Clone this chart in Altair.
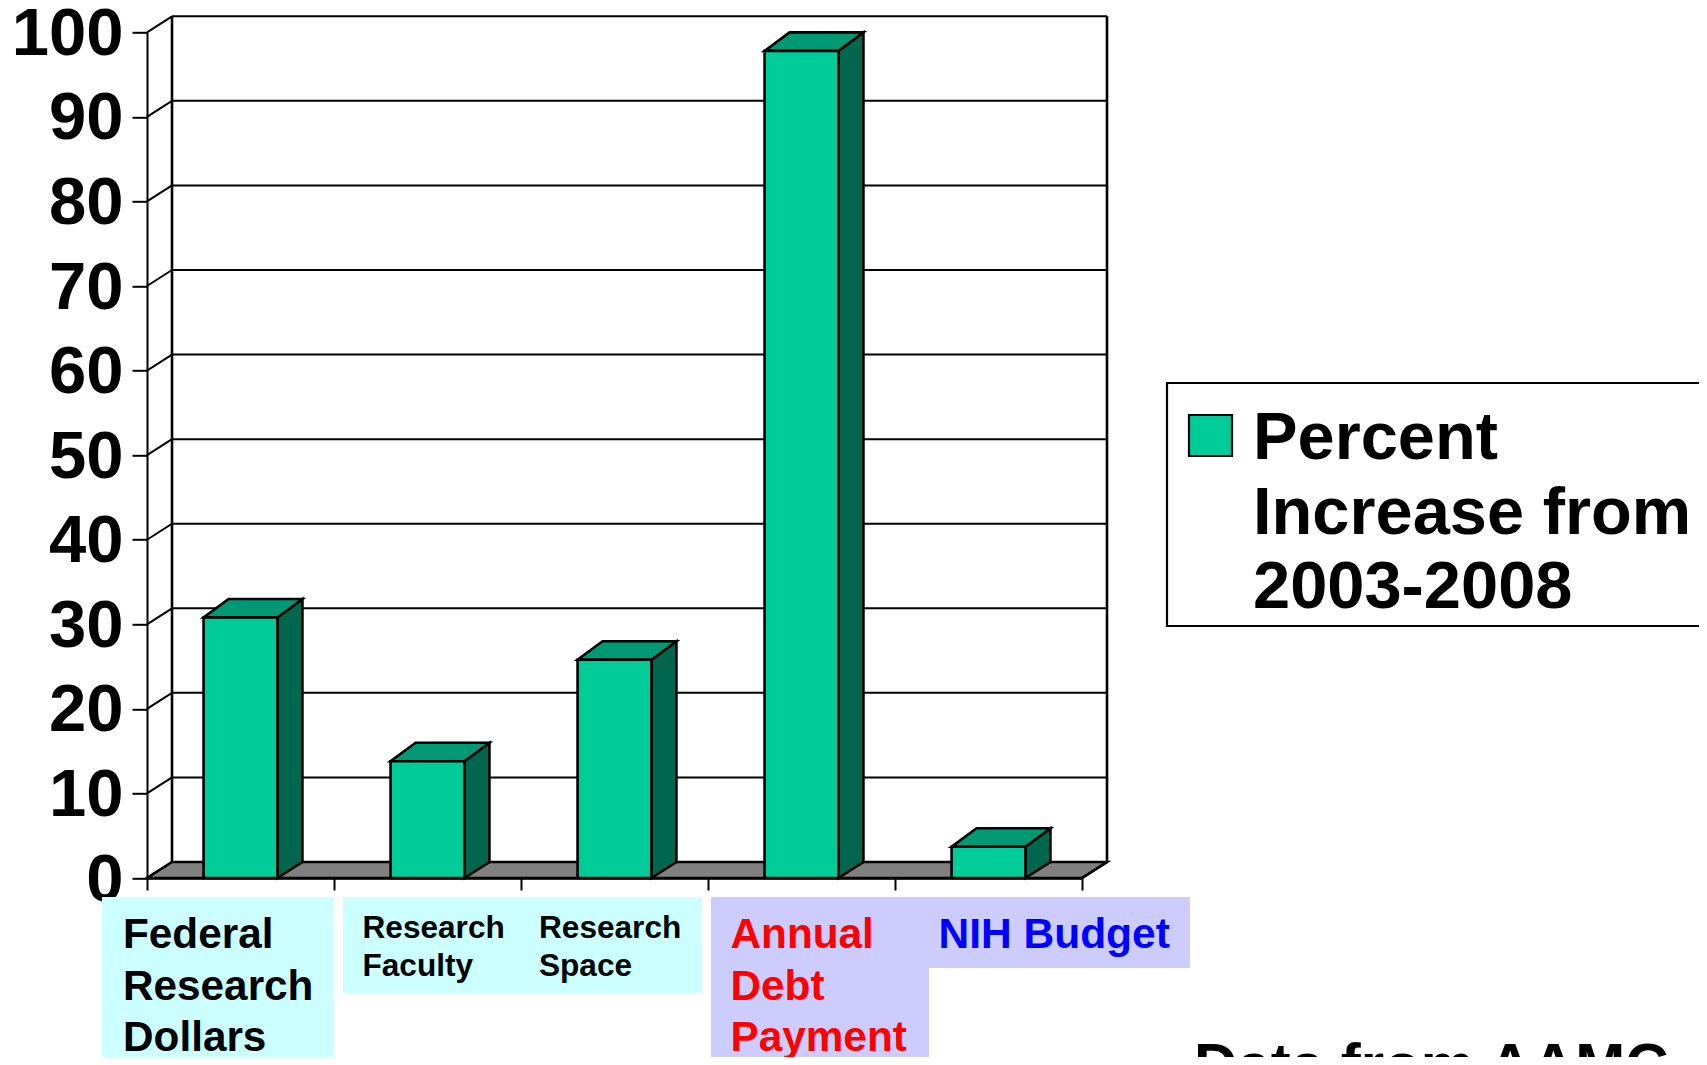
import altair as alt
import pandas as pd

# ---- values ----
CATEGORIES = ["Federal Research Dollars", "Research Faculty", "Research Space", "Annual Debt Payment", "NIH Budget"]
VALUES = [30.8, 13.8, 25.8, 97.8, 3.7]
Y_TICKS = [0, 10, 20, 30, 40, 50, 60, 70, 80, 90, 100]
X_TICKS = [0, 1, 2, 3, 4, 5]
SERIES_LINES = ["Percent", "Increase from", "2003-2008"]

# ---- layout / style ----
PLOT_L, PLOT_T, PLOT_W, PLOT_H = 147, 32.3, 935, 845.7
FONT = "Liberation Sans"
FACE, TOP, SIDE, FLOOR = "#00CC99", "#009973", "#00664D", "#808080"
DX = 25 / 187           # depth of the box in category units
DY = 16 / 8.457         # depth of the box in percent units
DY_TOP = 18.5 / 8.457   # depth of the top of a bar
BAR_W = 0.395
LINE = 2.6

xs = alt.Scale(domain=[0, 5], nice=False, zero=False)
ys = alt.Scale(domain=[0, 100], nice=False, zero=False)
x_axis = alt.Axis(
    values=X_TICKS, labels=False, grid=False, tickSize=12, tickWidth=2, tickColor="black",
    domainColor="black", domainWidth=2.5, title=None)
y_axis = alt.Axis(
    values=Y_TICKS, format="d", grid=False, tickSize=15, tickWidth=2, tickColor="black",
    domainColor="black", domainWidth=2, labelFont=FONT, labelFontWeight="bold",
    labelFontSize=67, labelColor="black", labelPadding=9, labelBaseline="middle",
    labelOffset=2, labelOverlap=False, labelFlush=False, title=None)
X = lambda f="x": alt.X(f"{f}:Q", scale=xs, axis=x_axis)
Y = lambda f="y": alt.Y(f"{f}:Q", scale=ys, axis=y_axis)
BLANK = pd.DataFrame({"a": [0]})


def px(v):
    return v - PLOT_L


def py(v):
    return v - PLOT_T


# floor
floor_df = pd.DataFrame({
    "x": [0, DX, 5, 5 + DX],
    "y": [0, 0, 0, DY],
    "y2": [0, DY, DY, DY],
})
floor = alt.Chart(floor_df).mark_area(color=FLOOR, stroke="black", strokeWidth=LINE).encode(
    x=X(), y=Y(), y2="y2:Q"
)

# walls: diagonal on the left wall, line on the back wall for each tick
tick_df = pd.DataFrame({"v": Y_TICKS})
tick_df["x0"] = 0.0
tick_df["x1"] = DX
tick_df["x2"] = 5 + DX
tick_df["yb"] = tick_df["v"] + DY
diag = alt.Chart(tick_df).mark_rule(color="black", strokeWidth=2).encode(
    x=X("x0"), x2="x1:Q", y=Y("v"), y2="yb:Q"
)
back = alt.Chart(tick_df).mark_rule(color="black", strokeWidth=2).encode(
    x=X("x1"), x2="x2:Q", y=Y("yb")
)
edges_df = pd.DataFrame({
    "x": [DX, 5 + DX, 5],
    "y": [DY, DY, 0],
    "x2": [DX, 5 + DX, 5 + DX],
    "y2": [100 + DY, 100 + DY, DY],
})
edges = alt.Chart(edges_df).mark_rule(color="black", strokeWidth=LINE).encode(
    x=X(), x2="x2:Q", y=Y(), y2="y2:Q"
)

# bars: front, side and top built from the values
front_df = pd.DataFrame({"cat": CATEGORIES, "v": VALUES})
front_df["x0"] = [i + 0.5 - BAR_W / 2 for i in range(len(VALUES))]
front_df["x1"] = front_df["x0"] + BAR_W
front_df["base"] = 0.0

side_rows, top_rows = [], []
for c, v, x0, x1 in zip(CATEGORIES, VALUES, front_df["x0"], front_df["x1"]):
    side_rows += [
        {"cat": c, "x": x1, "y": 0, "y2": v},
        {"cat": c, "x": x1 + DX, "y": DY, "y2": v + DY_TOP},
    ]
    top_rows += [
        {"cat": c, "x": x0, "y": v, "y2": v},
        {"cat": c, "x": x0 + DX, "y": v, "y2": v + DY_TOP},
        {"cat": c, "x": x1, "y": v, "y2": v + DY_TOP},
        {"cat": c, "x": x1 + DX, "y": v + DY_TOP, "y2": v + DY_TOP},
    ]
side = alt.Chart(pd.DataFrame(side_rows)).mark_area(color=SIDE, stroke="black", strokeWidth=LINE).encode(
    x=X(), y=Y(), y2="y2:Q", detail="cat:N"
)
top = alt.Chart(pd.DataFrame(top_rows)).mark_area(color=TOP, stroke="black", strokeWidth=LINE).encode(
    x=X(), y=Y(), y2="y2:Q", detail="cat:N"
)
front = alt.Chart(front_df).mark_rect(color=FACE, stroke="black", strokeWidth=LINE).encode(
    x=X("x0"), x2="x1:Q", y=Y("base"), y2="v:Q"
)


def box(x0, x1, y0, y1, fill, stroke=None, width=0):
    kw = {"stroke": stroke, "strokeWidth": width} if stroke else {}
    return alt.Chart(BLANK).mark_rect(color=fill, **kw).encode(
        x=alt.value(px(x0)), x2=alt.value(px(x1)), y=alt.value(py(y0)), y2=alt.value(py(y1))
    )


def label(lines, x, y, size, line_h, color="black"):
    return alt.Chart(BLANK).mark_text(
        text=lines, font=FONT, fontWeight="bold", fontSize=size, lineHeight=line_h,
        align="left", baseline="alphabetic", color=color,
    ).encode(x=alt.value(px(x)), y=alt.value(py(y)))


CYAN, LILAC = "#CCFFFF", "#CCCCFF"
annotations = [
    box(102, 334, 897, 1075, CYAN),
    box(343, 702, 897, 993, CYAN),
    box(711, 929, 897, 1075, LILAC),
    box(929, 1190, 897, 968, LILAC),
    label(["Federal", "Research", "Dollars"], 123, 948, 42.3, 51.6),
    label(["Research", "Faculty"], 362.5, 938, 31.6, 38),
    label(["Research", "Space"], 539, 938, 31.6, 38),
    label(["Annual", "Debt", "Payment"], 730.5, 948, 42.3, 51.6, "#FF0000"),
    label(["NIH Budget"], 938.5, 948, 42.5, 51.6, "#0000FF"),
    label(["Data from AAMC"], 1194, 1085, 60, 60),
    # legend
    box(1167, 1720, 383, 626, "white", "black", 2.2),
    box(1189, 1232, 415, 456, FACE, "black", 2.2),
    label(SERIES_LINES, 1253, 459, 66.8, 74.6),
]

# The whole chart must stay 1691x1049: a larger page is shrunk when it is photographed.
TOTAL_W, TOTAL_H = 1691, 1049
chart = alt.layer(
    floor, back, diag, edges, side, top, front, *annotations
).properties(
    width=PLOT_W,
    height=PLOT_H,
    padding={"left": PLOT_L - 8, "top": PLOT_T - 8,
             "right": TOTAL_W - (PLOT_L - 8) - PLOT_W,
             "bottom": TOTAL_H - (PLOT_T - 8) - PLOT_H},
    autosize="none",
    background="white",
).configure_view(stroke=None)

chart.save("out.html", embed_options={"renderer": "svg", "actions": False})
